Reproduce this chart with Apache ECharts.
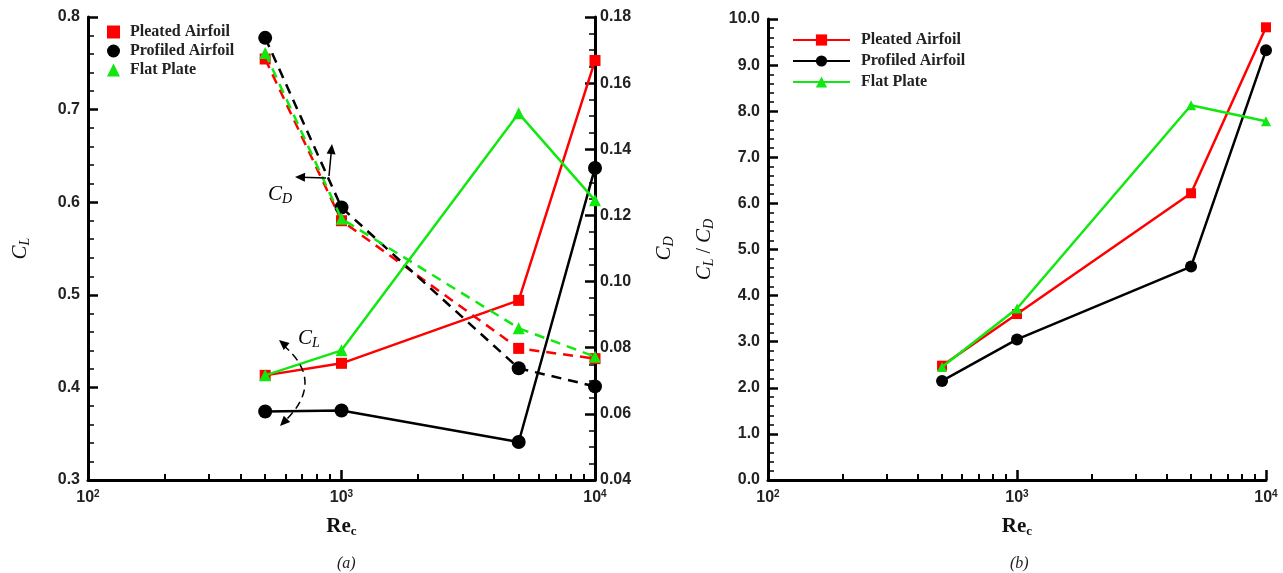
<!DOCTYPE html>
<html><head><meta charset="utf-8">
<script src="https://cdn.jsdelivr.net/npm/echarts@6/dist/echarts.min.js"></script>
<style>html,body{margin:0;padding:0;background:#fff}#c{width:1283px;height:573px}</style>
</head><body><div id="c"></div>
<script>
// ---- data ----
const reynolds = [500, 1000, 5000, 10000];
const seriesNames = ['Pleated Airfoil', 'Profiled Airfoil', 'Flat Plate'];
const clPleated  = [0.413, 0.426, 0.494, 0.753];
const clProfiled = [0.374, 0.375, 0.341, 0.637];
const clFlat     = [0.413, 0.440, 0.696, 0.602];
const cdPleated  = [0.1673, 0.1184, 0.0798, 0.0767];
const cdProfiled = [0.1737, 0.1224, 0.0738, 0.0683];
const cdFlat     = [0.1691, 0.1190, 0.0859, 0.0773];
const ratioPleated  = [2.48, 3.60, 6.22, 9.82];
const ratioProfiled = [2.15, 3.05, 4.63, 9.32];
const ratioFlat     = [2.45, 3.72, 8.13, 7.78];
const majorRe = [100, 1000, 10000];
const minorRe = [200,300,400,500,600,700,800,900,2000,3000,4000,5000,6000,7000,8000,9000];

const colors = ['#ff0000', '#000000', '#10e810'];
const symbols = ['rect', 'circle', 'triangle'];
const pair = a => reynolds.map((r, i) => [r, a[i]]);

const SANS = '"Liberation Sans", Arial, sans-serif';
const SERIF = '"Liberation Serif", "Times New Roman", serif';

const chart = echarts.init(document.getElementById('c'), null, {renderer: 'canvas'});

const tickLabelStyle = {fontFamily: SANS, fontWeight: 'bold', fontSize: 16, color: '#222'};
const expRich = {
  b: {fontFamily: SANS, fontWeight: 'bold', fontSize: 16, color: '#222'},
  sup: {fontFamily: SANS, fontWeight: 'bold', fontSize: 10, color: '#222', verticalAlign: 'top', padding: [0,0,8,0]}
};
const nameRich = {
  c: {fontFamily: SERIF, fontStyle: 'italic', fontSize: 21, color: '#111'},
  s: {fontFamily: SERIF, fontStyle: 'italic', fontSize: 14, color: '#111', padding: [9,0,0,0]},
  t: {fontFamily: SERIF, fontSize: 20, color: '#111'}
};
const reRich = {
  b: {fontFamily: SERIF, fontWeight: 'bold', fontSize: 21, color: '#111'},
  s: {fontFamily: SERIF, fontWeight: 'bold', fontSize: 13, color: '#111', padding: [10,0,0,0]}
};

function xAxes(grid) {
  return [{
    type: 'log', logBase: 10, min: 100, max: 10000, gridIndex: grid, position: 'bottom',
    axisLine: {lineStyle: {color: '#000', width: 3}},
    axisTick: {inside: true, length: 10, lineStyle: {width: 2.5, color: '#000'}, customValues: majorRe},
    axisLabel: {customValues: majorRe, margin: 9,
      formatter: v => '{b|10}{sup|' + Math.round(Math.log10(v)) + '}', rich: expRich},
    splitLine: {show: false},
    name: '{b|Re}{s|c}', nameLocation: 'middle', nameGap: 35, nameTextStyle: {rich: reRich}
  }, {
    type: 'log', logBase: 10, min: 100, max: 10000, gridIndex: grid, position: 'bottom',
    axisLine: {show: false},
    axisTick: {inside: true, length: 6, lineStyle: {width: 2, color: '#000'}, customValues: minorRe},
    axisLabel: {show: false}, splitLine: {show: false}
  }];
}

function yAxis(grid, opts) {
  return Object.assign({
    type: 'value', gridIndex: grid,
    axisLine: {show: true, lineStyle: {color: '#000', width: 3}},
    axisTick: {show: true, inside: true, length: 10, lineStyle: {width: 2.5, color: '#000'}},
    minorTick: {show: true, splitNumber: 5, length: 6, lineStyle: {width: 1.5, color: '#000'}},
    splitLine: {show: false},
    nameLocation: 'middle', nameRotate: 90,
    nameTextStyle: {rich: nameRich}
  }, opts);
}

const series = [];
const clData = [clPleated, clProfiled, clFlat];
const cdData = [cdPleated, cdProfiled, cdFlat];
const ratioData = [ratioPleated, ratioProfiled, ratioFlat];
const leftSizes = [11, 14, 12];
const rightSizes = [10, 12, 10];
for (let k = 0; k < 3; k++) {
  series.push({
    name: seriesNames[k], type: 'line', xAxisIndex: 0, yAxisIndex: 0,
    data: pair(clData[k]), symbol: symbols[k], symbolSize: leftSizes[k],
    itemStyle: {color: colors[k]}, lineStyle: {color: colors[k], width: 2.5}, z: 3 + k
  });
  series.push({
    name: seriesNames[k], type: 'line', xAxisIndex: 0, yAxisIndex: 1,
    data: pair(cdData[k]), symbol: symbols[k], symbolSize: leftSizes[k],
    itemStyle: {color: colors[k]}, lineStyle: {color: colors[k], width: 2.5, type: [10, 7]}, z: 3 + k
  });
  series.push({
    name: seriesNames[k], type: 'line', xAxisIndex: 2, yAxisIndex: 2,
    data: pair(ratioData[k]), symbol: symbols[k], symbolSize: rightSizes[k],
    itemStyle: {color: colors[k]}, lineStyle: {color: colors[k], width: 2.5}, z: 3 + k
  });
}

// annotation helpers (pixel positioned decorations)
function arrowHead(px, py, dx, dy, size) {
  const L = Math.hypot(dx, dy); dx /= L; dy /= L;
  const nx = -dy, ny = dx;
  return {type: 'polygon', z: 20, shape: {points: [
    [px, py], [px - dx*size + nx*size*0.45, py - dy*size + ny*size*0.45],
    [px - dx*size - nx*size*0.45, py - dy*size - ny*size*0.45]]},
    style: {fill: '#000'}};
}
function arrow(x1, y1, x2, y2) {
  return [{type: 'line', z: 20, shape: {x1, y1, x2: x2 - (x2-x1)*0.2, y2: y2 - (y2-y1)*0.2},
           style: {stroke: '#000', lineWidth: 1.5}},
          arrowHead(x2, y2, x2 - x1, y2 - y1, 10)];
}
const graphics = [].concat(
  arrow(326, 178, 295, 177),
  arrow(329, 176, 332, 144),
  [{type: 'text', z: 20, left: 268, top: 184, style: {rich: nameRich, text: '{c|C}{s|D}'}}],
  [{type: 'bezierCurve', z: 20, shape: {x1: 283, y1: 345, x2: 285, y2: 421, cpx1: 326, cpy1: 381},
    style: {stroke: '#000', lineWidth: 1.5, lineDash: [8, 5], fill: null}}],
  [arrowHead(279, 340, -45, -38, 10), arrowHead(280, 426, -43, 44, 10)],
  [{type: 'text', z: 20, left: 298, top: 328, style: {rich: nameRich, text: '{c|C}{s|L}'}}]
);

chart.setOption({
  animation: false,
  backgroundColor: '#fff',
  title: [
    {text: '(a)', left: 332, top: 551, textStyle: {fontFamily: SERIF, fontStyle: 'italic', fontWeight: 'normal', fontSize: 16, color: '#222'}},
    {text: '(b)', left: 1005, top: 551, textStyle: {fontFamily: SERIF, fontStyle: 'italic', fontWeight: 'normal', fontSize: 16, color: '#222'}}
  ],
  grid: [
    {left: 88, right: 1283 - 595, top: 17, bottom: 93},
    {left: 768, right: 1283 - 1266, top: 19, bottom: 93}
  ],
  legend: [
    {left: 102, top: 19, orient: 'vertical', itemGap: 3, itemWidth: 13, itemHeight: 13,
     textStyle: {fontFamily: SERIF, fontWeight: 'bold', fontSize: 16, color: '#222', padding: [0,0,0,5]},
     data: seriesNames.map((n, i) => ({name: n, icon: symbols[i]}))},
    {left: 787, top: 27, orient: 'vertical', itemGap: 5, itemWidth: 57, itemHeight: 14,
     textStyle: {fontFamily: SERIF, fontWeight: 'bold', fontSize: 16, color: '#222', padding: [0,0,0,6]},
     data: seriesNames}
  ],
  xAxis: xAxes(0).concat(xAxes(1)),
  yAxis: [
    yAxis(0, {min: 0.3, max: 0.8, interval: 0.1, position: 'left',
      axisLabel: Object.assign({margin: 8, formatter: v => v.toFixed(1)}, tickLabelStyle),
      name: '{c|C}{s|L}', nameGap: 56}),
    yAxis(0, {min: 0.04, max: 0.18, interval: 0.02, position: 'right',
      minorTick: {show: true, splitNumber: 4, length: 6, lineStyle: {width: 1.5, color: '#000'}},
      axisLabel: Object.assign({margin: 5, formatter: v => v.toFixed(2)}, tickLabelStyle),
      name: '{c|C}{s|D}', nameGap: 58}),
    yAxis(1, {min: 0, max: 10, interval: 1, position: 'left',
      axisLabel: Object.assign({margin: 8, formatter: v => v.toFixed(1)}, tickLabelStyle),
      name: '{c|C}{s|L}{t| / }{c|C}{s|D}', nameGap: 52})
  ],
  series: series,
  graphic: graphics
});
</script></body></html>
